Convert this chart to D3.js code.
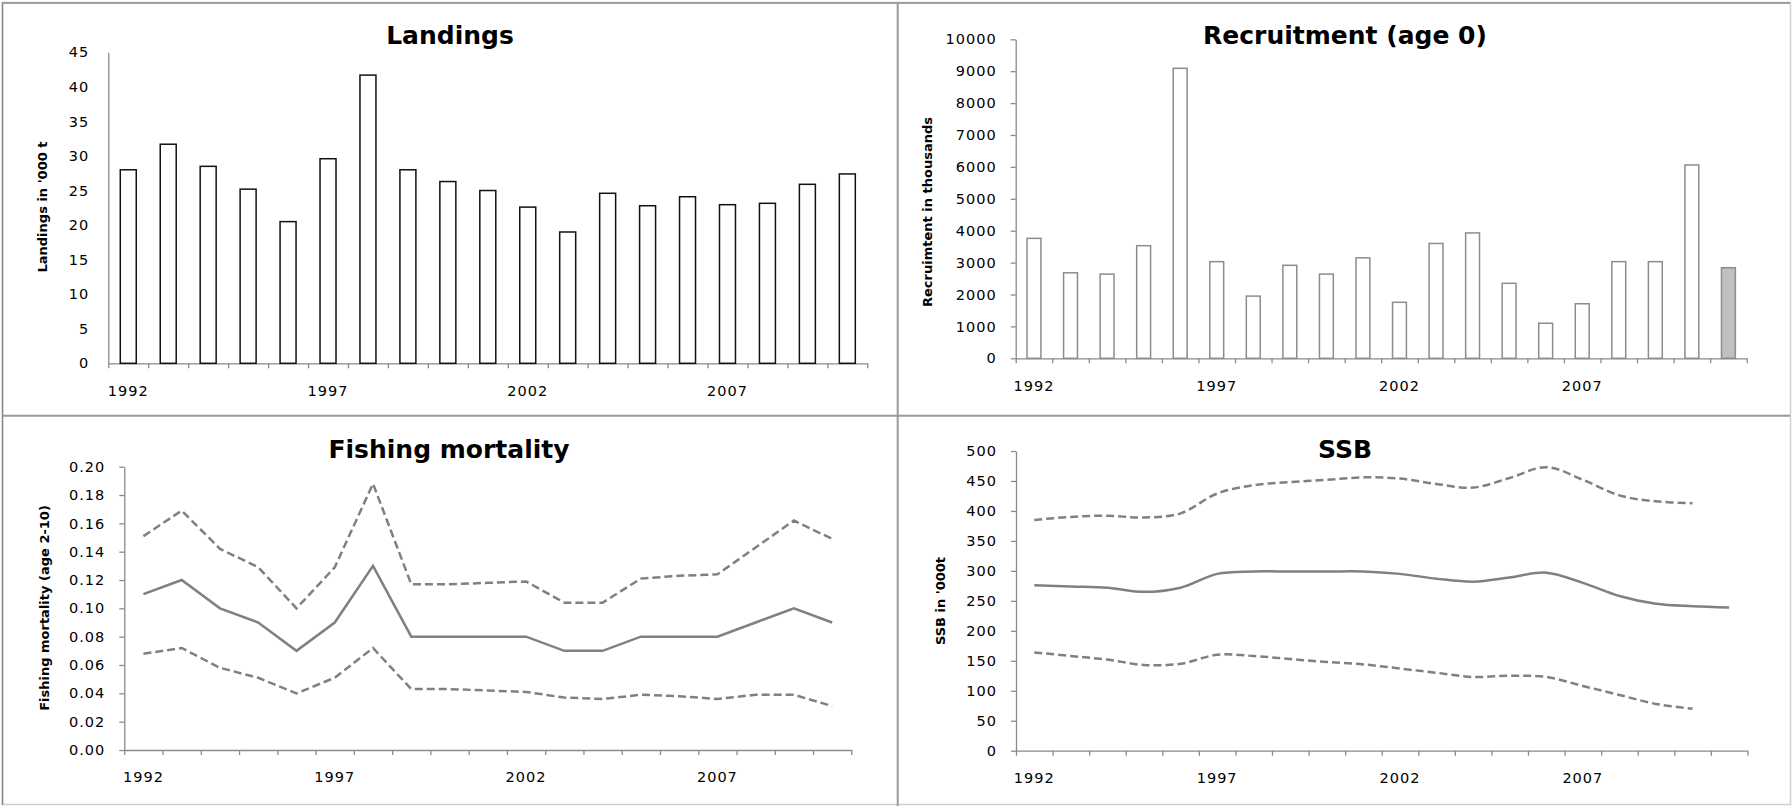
<!DOCTYPE html>
<html>
<head>
<meta charset="utf-8">
<script src="https://cdn.jsdelivr.net/npm/d3@7"></script>
<style>
  body { margin: 0; background: #fff; }
  svg { display: block; }
  text { font-family: "DejaVu Sans", sans-serif; }
</style>
</head>
<body>
<svg id="chart" width="1792" height="806"></svg>
<script>
// ---- data ----
const years19 = ['1992','1993','1994','1995','1996','1997','1998','1999','2000','2001',
                 '2002','2003','2004','2005','2006','2007','2008','2009','2010'];
const years20 = years19.concat(['2011']);
const yearLabels = ['1992', '1997', '2002', '2007'];

// Landings ('000 t)
const landings = [28, 31.7, 28.5, 25.2, 20.5, 29.6, 41.7, 28, 26.3, 25.0,
                  22.6, 19.0, 24.6, 22.8, 24.1, 22.95, 23.15, 25.9, 27.4];
const landingsTicks = [0, 5, 10, 15, 20, 25, 30, 35, 40, 45];

// Recruitment (thousands), last year is an estimate (grey bar)
const recruitment = [3760, 2680, 2640, 3530, 9090, 3030, 1950, 2915, 2640, 3150,
                     1755, 3600, 3930, 2350, 1100, 1710, 3030, 3030, 6060, 2840];
const recruitEstimateYear = '2011';
const recruitTicks = [0, 1000, 2000, 3000, 4000, 5000, 6000, 7000, 8000, 9000, 10000];

// Fishing mortality (age 2-10) with confidence bounds
const fMort = [0.11, 0.12, 0.10, 0.09, 0.07, 0.09, 0.13, 0.08, 0.08, 0.08,
               0.08, 0.07, 0.07, 0.08, 0.08, 0.08, 0.09, 0.10, 0.09];
const fHigh = [0.151, 0.169, 0.142, 0.129, 0.100, 0.129, 0.188, 0.117, 0.117, 0.118,
               0.119, 0.104, 0.104, 0.121, 0.123, 0.124, 0.143, 0.162, 0.149];
const fLow  = [0.068, 0.072, 0.058, 0.051, 0.040, 0.051, 0.072, 0.043, 0.043, 0.042,
               0.041, 0.037, 0.036, 0.039, 0.038, 0.036, 0.039, 0.039, 0.031];
const fTicks = [0, 0.02, 0.04, 0.06, 0.08, 0.10, 0.12, 0.14, 0.16, 0.18, 0.20];

// SSB ('000 t) with confidence bounds
const ssb     = [276, 274, 272, 265, 272, 295, 299, 299, 299, 299,
                 295, 287, 282, 289, 297, 280, 258, 245, 241, 239];
const ssbHigh = [385, 390, 392, 389, 396, 429, 443, 448, 452, 456,
                 454, 445, 439, 455, 473, 452, 426, 416, 413];
const ssbLow  = [164, 158, 152, 143, 145, 160, 158, 153, 148, 144,
                 137, 130, 123, 125, 123, 108, 93, 78, 70];
const ssbTicks = [0, 50, 100, 150, 200, 250, 300, 350, 400, 450, 500];

const svg = d3.select('#chart');
const axisGrey = '#8a8a8a';
const lineGrey = '#808080';

// ---- frame and panel dividers ----
svg.append('rect')
    .attr('x', 2.5).attr('y', 2.5)
    .attr('width', 1788).attr('height', 802)
    .attr('fill', 'none')
    .attr('stroke', '#d0d0d0')
    .attr('stroke-width', 1.5);
svg.append('path')
    .attr('d', 'M2.5,805 V3 H1790')
    .attr('fill', 'none')
    .attr('stroke', axisGrey)
    .attr('stroke-width', 1.5);
svg.append('line')
    .attr('x1', 897.7).attr('x2', 897.7).attr('y1', 3).attr('y2', 806)
    .attr('stroke', '#999').attr('stroke-width', 2);
svg.append('line')
    .attr('x1', 3).attr('x2', 1790).attr('y1', 415.7).attr('y2', 415.7)
    .attr('stroke', '#999').attr('stroke-width', 2);

// Build one panel: axes, title, axis title. Returns scales.
function makePanel( cfg ) {
    const g = svg.append('g');
    const n = cfg.cats.length;

    const xEdge = d3.scaleLinear().domain([0, n]).range([cfg.x0, cfg.x1]);
    const band = d3.scaleBand().domain(cfg.cats).range([cfg.x0, cfg.x1]);
    const y = d3.scaleLinear().domain(cfg.domain).range([cfg.yb, cfg.yt]);

    // y axis
    const yAxis = g.append('g')
        .attr('transform', 'translate(' + cfg.x0 + ',0)')
        .call( d3.axisLeft( y )
            .tickValues( cfg.ticks )
            .tickFormat( cfg.fmt )
            .tickSize( cfg.yTickSize )
            .tickSizeOuter( 0 )
            .tickPadding( 19 - cfg.yTickSize ) );

    // x axis: tick marks on category edges
    const xAxis = g.append('g')
        .attr('transform', 'translate(0,' + cfg.yb + ')')
        .call( d3.axisBottom( xEdge )
            .tickValues( d3.range( n + 1 ) )
            .tickFormat( '' )
            .tickSize( 5 )
            .tickSizeOuter( 0 ) );

    // x labels at category centres
    const xLab = g.append('g')
        .attr('transform', 'translate(0,' + cfg.yb + ')')
        .call( d3.axisBottom( band )
            .tickValues( yearLabels )
            .tickSize( 0 )
            .tickPadding( 22 ) );
    xLab.select('.domain').remove();

    [yAxis, xAxis, xLab].forEach( a => {
        a.selectAll('.domain, .tick line')
            .attr('stroke', axisGrey)
            .attr('stroke-width', 1.3);
        a.selectAll('text')
            .attr('font-family', '"DejaVu Sans", sans-serif')
            .attr('font-size', 14.5)
            .attr('letter-spacing', 1)
            .attr('fill', '#000');
    } );

    // title
    g.append('text')
        .attr('x', cfg.titleX)
        .attr('y', cfg.titleY)
        .attr('text-anchor', 'middle')
        .attr('font-size', 25)
        .attr('font-weight', 'bold')
        .attr('fill', '#000')
        .text( cfg.title );

    // axis title
    g.append('text')
        .attr('transform', 'translate(' + cfg.labelX + ',' + cfg.labelY + ') rotate(-90)')
        .attr('text-anchor', 'middle')
        .attr('dominant-baseline', 'central')
        .attr('font-size', 13)
        .attr('font-weight', 'bold')
        .attr('fill', '#000')
        .text( cfg.label );

    return { g: g, band: band, y: y };
}

// ---- Landings ----
const pL = makePanel( {
    cats: years19, x0: 108.3, x1: 867.3, yb: 363.3, yt: 52.3,
    domain: [0, 45], ticks: landingsTicks, fmt: d3.format('d'), yTickSize: 0,
    title: 'Landings', titleX: 450, titleY: 44,
    label: "Landings in '000 t", labelX: 42, labelY: 207
} );
pL.g.append('g')
    .selectAll('rect')
    .data( landings )
    .join('rect')
        .attr('x', ( d, i ) => pL.band( years19[i] ) + pL.band.bandwidth() * 0.3 )
        .attr('y', d => pL.y( d ) )
        .attr('width', pL.band.bandwidth() * 0.4 )
        .attr('height', d => pL.y( 0 ) - pL.y( d ) )
        .attr('fill', '#fff')
        .attr('stroke', '#111')
        .attr('stroke-width', 1.5);

// ---- Recruitment ----
const pR = makePanel( {
    cats: years20, x0: 1015.7, x1: 1746.7, yb: 358.3, yt: 39.3,
    domain: [0, 10000], ticks: recruitTicks, fmt: d3.format('d'), yTickSize: 5,
    title: 'Recruitment (age 0)', titleX: 1345, titleY: 44,
    label: 'Recruimtent in thousands', labelX: 927, labelY: 212
} );
pR.g.append('g')
    .selectAll('rect')
    .data( recruitment )
    .join('rect')
        .attr('x', ( d, i ) => pR.band( years20[i] ) + pR.band.bandwidth() * 0.31 )
        .attr('y', d => pR.y( d ) )
        .attr('width', pR.band.bandwidth() * 0.38 )
        .attr('height', d => pR.y( 0 ) - pR.y( d ) )
        .attr('fill', ( d, i ) => years20[i] === recruitEstimateYear ? '#c0c0c0' : '#fff' )
        .attr('stroke', '#8c8c8c')
        .attr('stroke-width', 1.5);

// line helper
function drawLine( p, cats, values, dashed, curve ) {
    const line = d3.line()
        .x( ( d, i ) => p.band( cats[i] ) + p.band.bandwidth() / 2 )
        .y( d => p.y( d ) )
        .curve( curve );
    p.g.append('path')
        .datum( values )
        .attr('d', line)
        .attr('fill', 'none')
        .attr('stroke', lineGrey)
        .attr('stroke-width', 2.5)
        .attr('stroke-dasharray', dashed ? '8,4' : null);
}

// ---- Fishing mortality ----
const pF = makePanel( {
    cats: years19, x0: 124.3, x1: 851.3, yb: 750, yt: 466.7,
    domain: [0, 0.2], ticks: fTicks, fmt: d3.format('.2f'), yTickSize: 5,
    title: 'Fishing mortality', titleX: 449, titleY: 457.5,
    label: 'Fishing mortality (age 2-10)', labelX: 44, labelY: 608
} );
drawLine( pF, years19, fHigh, true, d3.curveLinear );
drawLine( pF, years19, fLow, true, d3.curveLinear );
drawLine( pF, years19, fMort, false, d3.curveLinear );

// ---- SSB ----
const pS = makePanel( {
    cats: years20, x0: 1016, x1: 1747.4, yb: 750.7, yt: 451,
    domain: [0, 500], ticks: ssbTicks, fmt: d3.format('d'), yTickSize: 5,
    title: 'SSB', titleX: 1345, titleY: 458,
    label: "SSB in '000t", labelX: 940, labelY: 601
} );
drawLine( pS, years20, ssbHigh, true, d3.curveCatmullRom );
drawLine( pS, years20, ssbLow, true, d3.curveCatmullRom );
drawLine( pS, years20, ssb, false, d3.curveCatmullRom );
</script>
</body>
</html>
